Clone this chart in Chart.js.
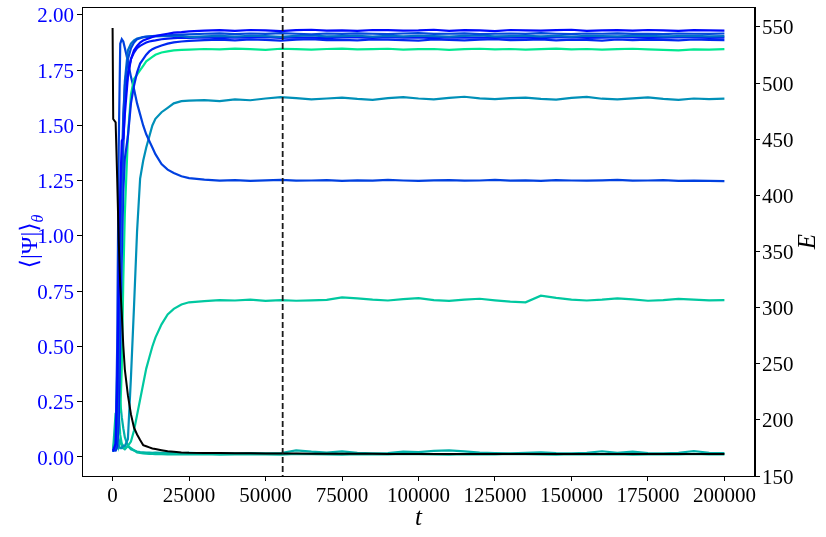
<!DOCTYPE html>
<html>
<head>
<meta charset="utf-8">
<script src="https://cdn.jsdelivr.net/npm/chart.js@4.4.1/dist/chart.umd.min.js"></script>
<style>
  body { margin: 0; background: #fff; }
  #wrap { width: 826px; height: 537px; }
</style>
</head>
<body>
<div id="wrap"><canvas id="chart" width="826" height="537"></canvas></div>
<script>
// time samples (shared by every series)
const times = [0, 200, 1000, 1500, 2000, 2500, 3000, 3500, 4000, 5000, 6000, 7000, 8000, 9000, 10000,
  11000, 12000, 13000, 14000, 16000, 18000, 20000, 22500,
  25000, 30000, 35000, 40000, 45000, 50000, 55000, 60000, 65000, 70000, 75000, 80000, 85000, 90000,
  95000, 100000, 105000, 110000, 115000, 120000, 125000, 130000, 135000, 140000, 145000, 150000,
  155000, 160000, 165000, 170000, 175000, 180000, 185000, 190000, 195000, 200000];

// <|Psi|>_theta, one array per run
const psiA = [0.03, 0.03, 0.06, 0.30, 0.80, 1.20, 1.43, 1.44, 1.55, 1.72, 1.80, 1.84, 1.86, 1.875, 1.885, 1.89, 1.895, 1.90, 1.905, 1.91, 1.915, 1.92, 1.922,
  1.926, 1.929, 1.931, 1.928, 1.932, 1.930, 1.927, 1.931, 1.933, 1.929, 1.930, 1.928, 1.932, 1.931, 1.929, 1.930, 1.933, 1.928,
  1.931, 1.930, 1.927, 1.932, 1.930, 1.929, 1.931, 1.933, 1.928, 1.930, 1.931, 1.929, 1.932, 1.930, 1.928, 1.931, 1.930, 1.929];
const psiB = [0.03, 0.03, 0.04, 0.10, 0.50, 1.00, 1.30, 1.55, 1.68, 1.80, 1.85, 1.875, 1.89, 1.895, 1.90, 1.902, 1.903, 1.904, 1.905, 1.907, 1.908, 1.91, 1.911,
  1.912, 1.915, 1.917, 1.913, 1.916, 1.914, 1.918, 1.915, 1.912, 1.916, 1.914, 1.917, 1.915, 1.913, 1.916, 1.918, 1.914, 1.915,
  1.917, 1.913, 1.915, 1.916, 1.914, 1.918, 1.915, 1.913, 1.916, 1.915, 1.917, 1.914, 1.915, 1.913, 1.916, 1.915, 1.914, 1.916];
const psiC = [0.03, 0.03, 0.05, 0.15, 0.45, 0.85, 1.20, 1.50, 1.70, 1.84, 1.87, 1.885, 1.893, 1.897, 1.90, 1.901, 1.902, 1.903, 1.903, 1.904, 1.904, 1.905, 1.905,
  1.900, 1.903, 1.905, 1.902, 1.906, 1.904, 1.901, 1.905, 1.907, 1.903, 1.904, 1.906, 1.902, 1.905, 1.903, 1.906, 1.904, 1.902,
  1.905, 1.907, 1.903, 1.904, 1.906, 1.903, 1.905, 1.902, 1.906, 1.904, 1.903, 1.905, 1.906, 1.903, 1.904, 1.905, 1.903, 1.904];
const psiD = [0.03, 0.03, 0.03, 0.05, 0.15, 0.50, 0.90, 1.20, 1.35, 1.45, 1.60, 1.68, 1.74, 1.78, 1.80, 1.82, 1.835, 1.845, 1.852, 1.862, 1.87, 1.876, 1.88,
  1.883, 1.886, 1.888, 1.885, 1.889, 1.887, 1.884, 1.888, 1.890, 1.886, 1.887, 1.885, 1.889, 1.888, 1.886, 1.884, 1.889, 1.887,
  1.885, 1.888, 1.890, 1.886, 1.887, 1.889, 1.885, 1.888, 1.887, 1.884, 1.889, 1.886, 1.888, 1.887, 1.885, 1.889, 1.887, 1.886];
const psiE = [0.03, 0.03, 0.04, 0.08, 0.20, 0.70, 1.10, 1.40, 1.60, 1.74, 1.80, 1.83, 1.85, 1.86, 1.868, 1.875, 1.88, 1.883, 1.885, 1.89, 1.893, 1.895, 1.897,
  1.896, 1.898, 1.895, 1.899, 1.897, 1.900, 1.896, 1.898, 1.897, 1.895, 1.899, 1.898, 1.896, 1.900, 1.897, 1.898, 1.895, 1.899,
  1.897, 1.898, 1.896, 1.899, 1.897, 1.895, 1.898, 1.900, 1.896, 1.897, 1.899, 1.898, 1.896, 1.897, 1.899, 1.898, 1.896, 1.897];
const psiF = [0.03, 0.03, 0.04, 0.12, 0.30, 0.20, 0.40, 0.80, 1.10, 1.45, 1.64, 1.71, 1.73, 1.75, 1.77, 1.79, 1.80, 1.81, 1.82, 1.83, 1.835, 1.84, 1.842,
  1.843, 1.846, 1.844, 1.848, 1.845, 1.842, 1.847, 1.845, 1.843, 1.846, 1.848, 1.844, 1.845, 1.847, 1.843, 1.845, 1.846, 1.842,
  1.845, 1.847, 1.844, 1.846, 1.843, 1.845, 1.848, 1.844, 1.846, 1.843, 1.845, 1.847, 1.844, 1.842, 1.840, 1.844, 1.843, 1.845];
const psiG = [0.03, 0.03, 0.03, 0.04, 0.05, 0.04, 0.04, 0.05, 0.05, 0.08, 0.36, 0.68, 1.02, 1.26, 1.34, 1.40, 1.45, 1.50, 1.53, 1.56, 1.58, 1.60, 1.61,
  1.612, 1.615, 1.610, 1.618, 1.614, 1.622, 1.628, 1.624, 1.618, 1.622, 1.626, 1.620, 1.616, 1.624, 1.628, 1.622, 1.618, 1.625,
  1.630, 1.623, 1.619, 1.624, 1.626, 1.620, 1.617, 1.625, 1.629, 1.621, 1.618, 1.623, 1.627, 1.620, 1.616, 1.622, 1.619, 1.621];
const psiH = [0.03, 0.03, 0.05, 0.50, 1.40, 1.87, 1.89, 1.88, 1.85, 1.79, 1.72, 1.665, 1.60, 1.55, 1.50, 1.46, 1.43, 1.40, 1.37, 1.325, 1.30, 1.285, 1.27,
  1.262, 1.255, 1.250, 1.253, 1.249, 1.252, 1.254, 1.250, 1.251, 1.253, 1.249, 1.252, 1.250, 1.254, 1.251, 1.249, 1.252, 1.253,
  1.250, 1.251, 1.254, 1.250, 1.252, 1.249, 1.253, 1.251, 1.250, 1.252, 1.254, 1.250, 1.251, 1.253, 1.249, 1.250, 1.249, 1.248];
const psiI = [0.03, 0.03, 0.05, 0.12, 0.20, 0.10, 0.06, 0.05, 0.04, 0.05, 0.07, 0.12, 0.19, 0.26, 0.33, 0.40, 0.45, 0.50, 0.54, 0.60, 0.645, 0.67, 0.69,
  0.700, 0.705, 0.710, 0.708, 0.712, 0.706, 0.710, 0.707, 0.709, 0.711, 0.722, 0.718, 0.712, 0.708, 0.714, 0.719, 0.710, 0.706,
  0.712, 0.716, 0.709, 0.703, 0.700, 0.730, 0.720, 0.712, 0.708, 0.712, 0.718, 0.713, 0.707, 0.710, 0.715, 0.712, 0.709, 0.710];
const psiJ = [0.03, 0.03, 0.12, 0.38, 0.41, 0.25, 0.18, 0.13, 0.09, 0.05, 0.035, 0.03, 0.025, 0.022, 0.021, 0.02, 0.02, 0.019, 0.02, 0.019, 0.02, 0.019, 0.018,
  0.019, 0.017, 0.018, 0.016, 0.018, 0.017, 0.018, 0.030, 0.024, 0.020, 0.025, 0.019, 0.017, 0.018, 0.024, 0.022, 0.028, 0.030,
  0.025, 0.020, 0.018, 0.017, 0.019, 0.021, 0.018, 0.017, 0.019, 0.026, 0.019, 0.024, 0.018, 0.017, 0.019, 0.027, 0.019, 0.018];
const psiK = [0.04, 0.04, 0.20, 0.10, 0.05, 0.08, 0.05, 0.04, 0.035, 0.05, 0.04, 0.03, 0.02, 0.018, 0.016, 0.015, 0.014, 0.014, 0.013, 0.013, 0.012, 0.013, 0.012,
  0.012, 0.013, 0.011, 0.012, 0.013, 0.012, 0.011, 0.014, 0.013, 0.012, 0.011, 0.013, 0.012, 0.012, 0.014, 0.013, 0.012, 0.011,
  0.013, 0.012, 0.012, 0.014, 0.013, 0.012, 0.011, 0.013, 0.012, 0.012, 0.013, 0.011, 0.012, 0.013, 0.012, 0.014, 0.012, 0.012];

// energy on the right axis
const energy = [549, 468, 465, 415, 360, 320, 295, 266, 245, 222, 205, 193, 187, 182, 177.5, 176.5, 175.5, 174.5, 174, 173, 172, 171.5, 171,
  170.7, 170.5, 170.4, 170.3, 170.2, 170.1, 170.0, 170.0, 169.9, 169.9, 169.8, 169.8, 169.8, 169.7, 169.7, 169.7, 169.6, 169.6,
  169.6, 169.6, 169.5, 169.5, 169.5, 169.5, 169.5, 169.5, 169.5, 169.5, 169.5, 169.5, 169.5, 169.5, 169.5, 169.5, 169.5, 169.5];

const xTicks = [0, 25000, 50000, 75000, 100000, 125000, 150000, 175000, 200000];
const psiTicks = [0, 0.25, 0.5, 0.75, 1.0, 1.25, 1.5, 1.75, 2.0];
const eTicks = [150, 200, 250, 300, 350, 400, 450, 500, 550];
const markerT = 55600;

const runs = [
  [psiJ, '#00b0a8'], [psiK, '#00bca2'], [psiI, '#00c8a0'], [psiG, '#0090b8'], [psiH, '#0040e0'],
  [psiF, '#00e890'], [psiD, '#0028f0'], [psiE, '#0018f8'], [psiC, '#0070c8'], [psiB, '#0048dc'], [psiA, '#0008ff']
];

const pts = vals => times.map((t, i) => ({x: t, y: vals[i]}));

let datasets = [{
  data: pts(energy), yAxisID: 'y1', borderColor: '#000', borderWidth: 2, order: 0
}];
runs.forEach((r, i) => {
  datasets.push({data: pts(r[0]), yAxisID: 'y', borderColor: r[1], borderWidth: 2.2, order: runs.length - i});
});

const serif = '"Liberation Serif", "DejaVu Serif", serif';

const extras = {
  id: 'extras',
  afterDatasetsDraw(chart) {
    const ctx = chart.ctx, a = chart.chartArea;
    const x = chart.scales.x.getPixelForValue(markerT);
    ctx.save();
    ctx.strokeStyle = '#1a1a1a';
    ctx.lineWidth = 1.8;
    ctx.setLineDash([6, 3]);
    ctx.beginPath();
    ctx.moveTo(x, a.top);
    ctx.lineTo(x, a.bottom);
    ctx.stroke();
    ctx.restore();
  },
  afterDraw(chart) {
    const ctx = chart.ctx, a = chart.chartArea;
    const midY = (a.top + a.bottom) / 2;
    ctx.save();
    ctx.strokeStyle = '#000';
    ctx.lineWidth = 1;
    ctx.strokeRect(a.left + 0.5, a.top + 0.5, a.right - a.left - 1, a.bottom - a.top);

    ctx.fillStyle = '#000';
    ctx.textAlign = 'center';
    ctx.textBaseline = 'middle';
    ctx.font = 'italic 25px ' + serif;
    ctx.fillText('t', (a.left + a.right) / 2, 518);

    ctx.save();
    ctx.translate(808, midY);
    ctx.rotate(-Math.PI / 2);
    ctx.fillText('E', 0, 0);
    ctx.restore();

    // left label with subscript theta
    ctx.save();
    ctx.translate(31, midY);
    ctx.rotate(-Math.PI / 2);
    ctx.fillStyle = '#0000ff';
    ctx.textAlign = 'left';
    ctx.font = '24px ' + serif;
    const main = '⟨|Ψ|⟩';
    const w1 = ctx.measureText(main).width;
    ctx.font = 'italic 16px ' + serif;
    const w2 = ctx.measureText('θ').width;
    const x0 = -(w1 + w2) / 2;
    ctx.font = '24px ' + serif;
    ctx.fillText(main, x0, 0);
    ctx.font = 'italic 16px ' + serif;
    ctx.fillText('θ', x0 + w1, 8);
    ctx.restore();
    ctx.restore();
  }
};

const noPad = s => { s.paddingTop = 0; s.paddingBottom = 0; };

let chart = new Chart(document.getElementById('chart').getContext('2d'), {
  type: 'line',
  data: {datasets: datasets},
  options: {
    responsive: false,
    animation: false,
    events: [],
    layout: {padding: {top: 7, left: 0, right: 0, bottom: 0}},
    elements: {point: {radius: 0}, line: {tension: 0, fill: false}},
    plugins: {legend: {display: false}, tooltip: {enabled: false}},
    scales: {
      x: {
        type: 'linear', min: -10000, max: 210000,
        afterBuildTicks: s => { s.ticks = xTicks.map(v => ({value: v})); },
        afterFit: s => { s.height = 61; s.paddingLeft = 0; s.paddingRight = 0; },
        grid: {drawOnChartArea: false, tickLength: 5, tickColor: '#000'},
        border: {color: '#000', width: 1},
        ticks: {color: '#000', font: {family: serif, size: 21}, padding: 3, maxRotation: 0,
          callback: v => String(v)}
      },
      y: {
        position: 'left', min: -0.086, max: 2.036,
        afterBuildTicks: s => { s.ticks = psiTicks.map(v => ({value: v})); },
        afterFit: s => { s.width = 82; noPad(s); },
        grid: {drawOnChartArea: false, tickLength: 5, tickColor: '#000'},
        border: {color: '#000', width: 1},
        ticks: {color: '#0000ff', font: {family: serif, size: 21}, padding: 3, labelOffset: 2,
          callback: v => v.toFixed(2)}
      },
      y1: {
        position: 'right', min: 150, max: 567.8,
        afterBuildTicks: s => { s.ticks = eTicks.map(v => ({value: v})); },
        afterFit: s => { s.width = 71; noPad(s); },
        grid: {drawOnChartArea: false, tickLength: 5, tickColor: '#000'},
        border: {color: '#000', width: 1},
        ticks: {color: '#000', font: {family: serif, size: 21}, padding: 2, labelOffset: 2,
          callback: v => String(v)}
      }
    }
  },
  plugins: [extras]
});
</script>
</body>
</html>
